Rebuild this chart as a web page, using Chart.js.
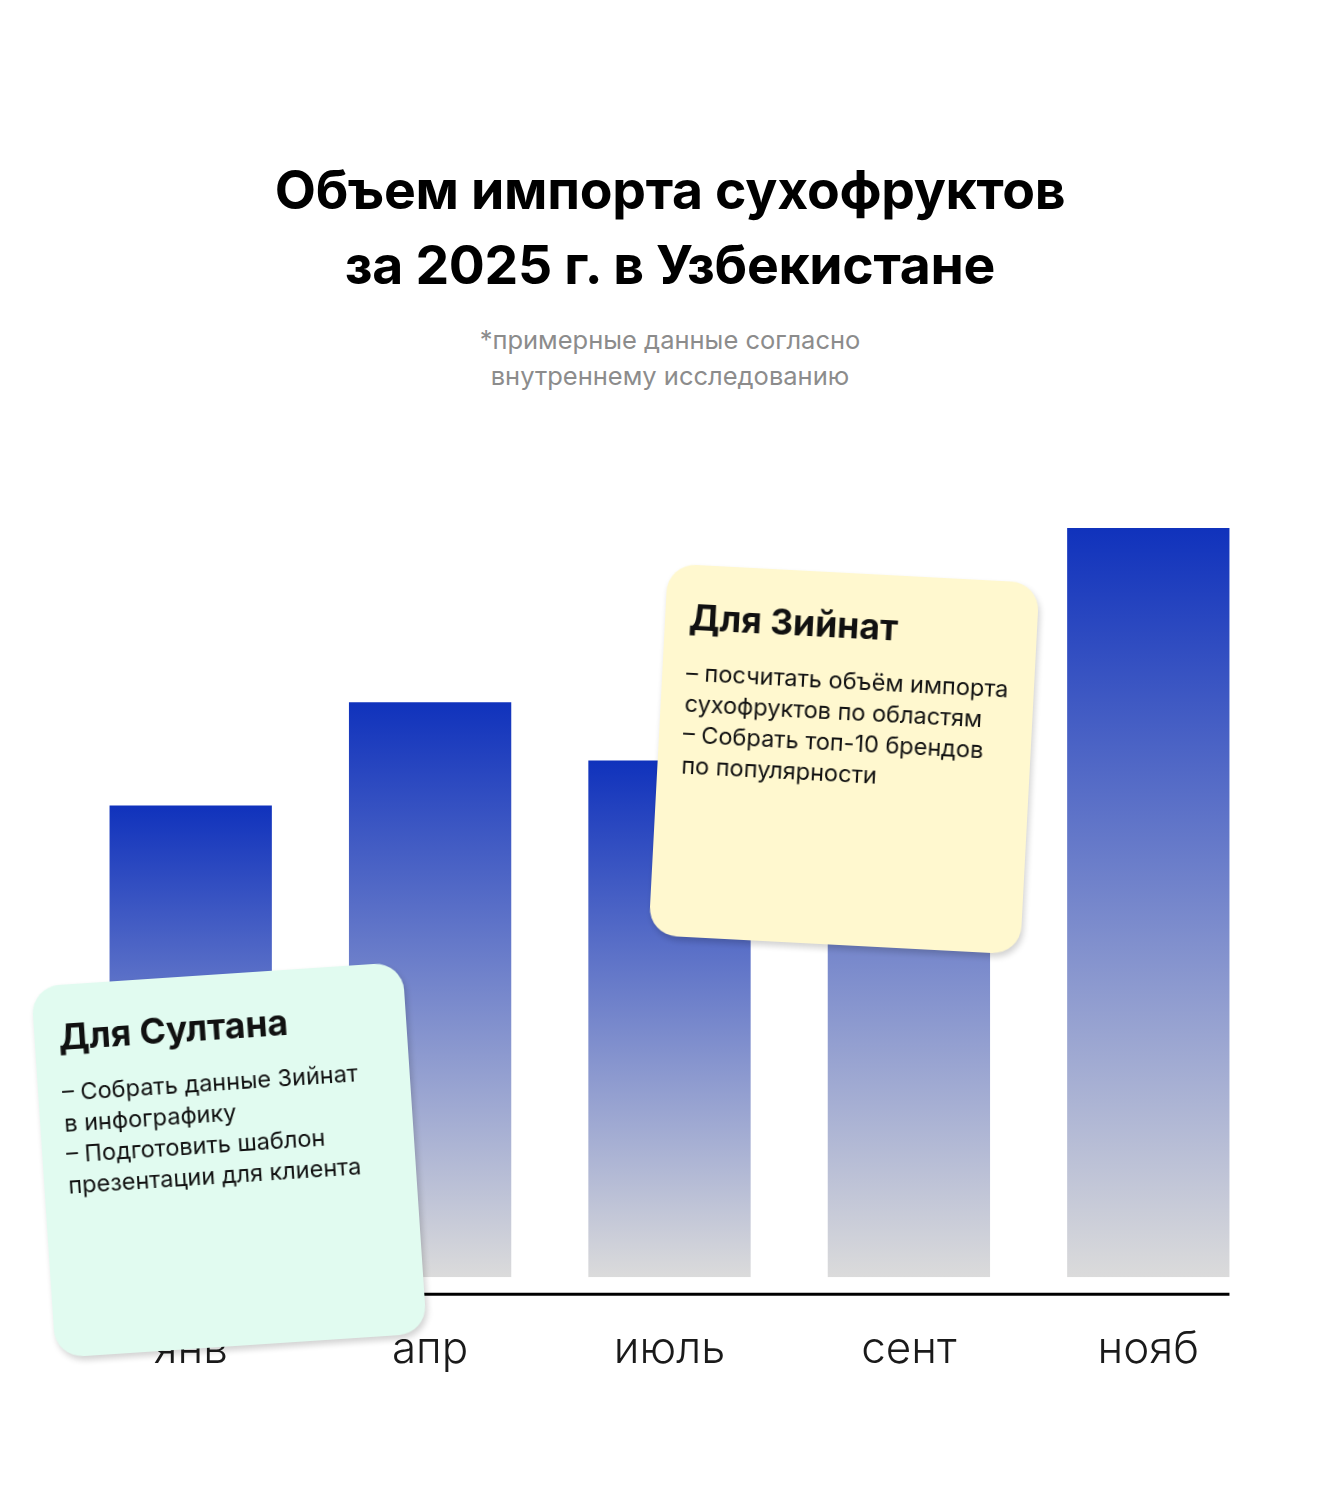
<!DOCTYPE html>
<html lang="ru">
<head>
<meta charset="utf-8">
<title>Объем импорта сухофруктов</title>
<script src="https://cdn.jsdelivr.net/npm/chart.js@4.4.1/dist/chart.umd.min.js"></script>
<style>
  html, body { margin: 0; padding: 0; background: #fff; }
  body { width: 1340px; height: 1500px; position: relative; overflow: hidden; font-family: Inter, "Noto Sans", sans-serif; }
  h1 {
    position: absolute; left: 0; right: 0; top: 152px; margin: 0;
    text-align: center; font-size: 53.5px; line-height: 75px; font-weight: 700; color: #000; letter-spacing: -0.3px;
  }
  .sub {
    position: absolute; left: 0; right: 0; top: 322px; margin: 0;
    text-align: center; font-size: 25.5px; line-height: 36px; color: #8c8c8c;
  }
  #wrap { position: absolute; left: 0; top: 420px; width: 1340px; height: 1014px; }
  .note {
    position: absolute; width: 372px; height: 372px; box-sizing: border-box;
    border-radius: 28px; padding: 32px 24px;
    box-shadow: 2px 4px 6px rgba(0,0,0,0.18);
    color: #111; white-space: nowrap;
  }
  .note h3 { margin: 0 0 18px; font-size: 35.5px; font-weight: 700; line-height: 42px; }
  .note p { margin: 0; font-size: 23.5px; line-height: 31px; }
  #noteZ { left: 658px; top: 573px; background: #fff8cf; transform: rotate(3deg); }
  #noteS { left: 43px; top: 974px; background: #e1fbf0; transform: rotate(-3.8deg); }
</style>
</head>
<body>
<h1>Объем импорта сухофруктов<br>за 2025 г. в Узбекистане</h1>
<p class="sub">*примерные данные согласно<br>внутреннему исследованию</p>
<div id="wrap"><canvas id="importChart"></canvas></div>

<div class="note" id="noteZ">
  <h3>Для Зийнат</h3>
  <p>– посчитать объём импорта<br>сухофруктов по областям<br>– Собрать топ-10 брендов<br>по популярности</p>
</div>
<div class="note" id="noteS">
  <h3>Для Султана</h3>
  <p>– Собрать данные Зийнат<br>в инфографику<br>– Подготовить шаблон<br>презентации для клиента</p>
</div>

<script>
// ── Data ─────────────────────────────────────────────────────────────────────

const months = ['янв', 'апр', 'июль', 'сент', 'нояб'];
const importVolume = [47.1, 57.4, 51.6, 65.6, 74.8];
const yMax = 80;

// ── Helpers ──────────────────────────────────────────────────────────────────

function barGradient(ctx) {
    const chart = ctx.chart;
    const y = chart.scales.y;
    if (!y || ctx.raw === undefined) return '#1133bb';
    const top = y.getPixelForValue(ctx.raw);
    const base = y.getPixelForValue(0);
    if (!isFinite(top) || !isFinite(base)) return '#1133bb';
    const g = chart.ctx.createLinearGradient(0, top, 0, base);
    g.addColorStop(0, '#1032bc');
    g.addColorStop(1, '#dbdbdb');
    return g;
}

// axis line runs from the first bar's left edge to the last bar's right edge
const baseLine = {
    id: 'baseLine',
    afterDatasetsDraw(chart) {
        const bars = chart.getDatasetMeta(0).data;
        if (!bars.length) return;
        const first = bars[0], last = bars[bars.length - 1];
        const ctx = chart.ctx;
        const yy = chart.chartArea.bottom + 17;
        ctx.save();
        ctx.strokeStyle = '#000';
        ctx.lineWidth = 3;
        ctx.beginPath();
        ctx.moveTo(first.x - first.width / 2, yy);
        ctx.lineTo(last.x + last.width / 2, yy);
        ctx.stroke();
        ctx.restore();
    }
};

// ── Chart ────────────────────────────────────────────────────────────────────

new Chart(document.getElementById('importChart'), {
    type: 'bar',
    data: {
        labels: months,
        datasets: [{
            label: 'Импорт сухофруктов',
            data: importVolume,
            backgroundColor: barGradient,
            borderWidth: 0,
            barPercentage: 1,
            categoryPercentage: 0.678
        }]
    },
    options: {
        responsive: true,
        maintainAspectRatio: false,
        animation: false,
        layout: { padding: { left: 71, right: 72, top: 56, bottom: 20 } },
        plugins: { legend: { display: false }, tooltip: { enabled: false } },
        scales: {
            x: {
                grid: { display: false },
                border: { display: false },
                ticks: {
                    color: '#1a1a1a',
                    padding: 38,
                    font: { family: 'Inter', size: 44, weight: 300 }
                }
            },
            y: {
                display: false,
                min: 0,
                max: yMax
            }
        }
    },
    plugins: [baseLine]
});
</script>
</body>
</html>
